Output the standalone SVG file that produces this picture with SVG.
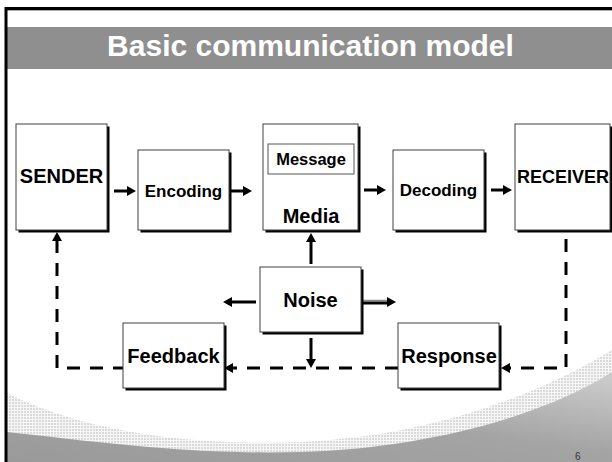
<svg xmlns="http://www.w3.org/2000/svg" width="612" height="462" viewBox="0 0 612 462">
  <defs>
    <style>
      .box{fill:#fff;stroke:#404040;stroke-width:1}
      .shadow{fill:#000}
      .lbl{font-family:"Liberation Sans",Arial,sans-serif;font-weight:bold;fill:#000;text-anchor:middle}
      .solid{stroke:#000;stroke-width:3;fill:none}
      .dash{stroke:#000;stroke-width:3;fill:none;stroke-dasharray:13 10}
    </style>
    <marker id="ah" viewBox="0 0 9 10" refX="1" refY="5" markerWidth="9" markerHeight="10" markerUnits="userSpaceOnUse" orient="auto-start-reverse">
      <path d="M0,0 L9,5 L0,10 z" fill="#000"/>
    </marker>
    <pattern id="dots" width="3" height="3" patternUnits="userSpaceOnUse">
      <rect width="3" height="3" fill="#f6f6f6"/>
      <rect width="2" height="2" fill="#dadada"/>
    </pattern>
    <linearGradient id="swoosh" x1="0" y1="1" x2="0.9" y2="0">
      <stop offset="0" stop-color="#9a9a9a"/>
      <stop offset="0.55" stop-color="#a4a4a4"/>
      <stop offset="1" stop-color="#cacaca"/>
    </linearGradient>
  </defs>

  <!-- page background -->
  <rect width="612" height="462" fill="#fff"/>

  <!-- lower decorative swoosh: dotted band and grey wave -->
  <path d="M7,393 C70,425 170,447 300,442 C420,437 530,400 612,350 L612,462 L7,462 Z" fill="url(#dots)"/>
  <path d="M7,432 C100,442 190,455 300,452 C420,449 540,418 612,372 L612,462 L7,462 Z" fill="url(#swoosh)"/>

  <!-- title band -->
  <rect x="7" y="27" width="605" height="42" fill="#8f8f8f"/>
  <text x="310.5" y="56" font-family="'Liberation Sans',Arial,sans-serif" font-weight="bold" font-size="30" fill="#fff" text-anchor="middle">Basic communication model</text>

  <!-- slide frame -->
  <line x1="7" y1="10.2" x2="612" y2="10.2" stroke="#b0b0b0" stroke-width="1.5"/>
  <path d="M6,462 V8.5 H612" fill="none" stroke="#000" stroke-width="3"/>

  <!-- page number -->
  <text x="575" y="460" font-family="'Liberation Sans',Arial,sans-serif" font-size="10" fill="#333">6</text>

  <!-- connectors -->
  <g id="connectors">
    <line class="solid" x1="114" y1="191" x2="128" y2="191" marker-end="url(#ah)"/>
    <line class="solid" x1="231" y1="191" x2="244" y2="191" marker-end="url(#ah)"/>
    <line class="solid" x1="364" y1="190" x2="378" y2="190" marker-end="url(#ah)"/>
    <line class="solid" x1="491" y1="190" x2="504" y2="190" marker-end="url(#ah)"/>
    <line class="solid" x1="311" y1="264" x2="311" y2="241" marker-end="url(#ah)"/>
    <line class="solid" x1="256" y1="302" x2="231" y2="302" marker-end="url(#ah)"/>
    <line x1="363" y1="300.5" x2="389" y2="300.5" stroke="#8a8a8a" stroke-width="1.5"/>
    <line x1="363" y1="303" x2="388" y2="303" stroke="#000" stroke-width="3"/>
    <path d="M387,297 L396,302 L387,307 z" fill="#000"/>
    <line class="solid" x1="311" y1="338" x2="311" y2="360" marker-end="url(#ah)"/>
    <path class="dash" d="M566,239 V368 H509" marker-end="url(#ah)"/>
    <path class="dash" d="M398,368 H232" marker-end="url(#ah)"/>
    <path class="dash" d="M57,240 V368 H123" marker-start="url(#ah)"/>
  </g>

  <!-- nodes -->
  <g id="sender">
    <rect class="shadow" x="18.5" y="126.5" width="91" height="106"/>
    <rect class="box" x="16" y="124" width="91" height="106"/>
    <text class="lbl" x="61.5" y="183" font-size="20">SENDER</text>
  </g>
  <g id="encoding">
    <rect class="shadow" x="140.5" y="152.5" width="91" height="80"/>
    <rect class="box" x="138" y="150" width="91" height="80"/>
    <text class="lbl" x="183.5" y="197" font-size="17">Encoding</text>
  </g>
  <g id="media">
    <rect class="shadow" x="265.5" y="126.5" width="95" height="106"/>
    <rect class="box" x="263" y="124" width="95" height="106"/>
    <rect x="268" y="144" width="86" height="30" fill="#fff" stroke="#555" stroke-width="1"/>
    <text class="lbl" x="311" y="165" font-size="16.5">Message</text>
    <text class="lbl" x="311" y="223" font-size="20">Media</text>
  </g>
  <g id="decoding">
    <rect class="shadow" x="395.5" y="152.5" width="91" height="80"/>
    <rect class="box" x="393" y="150" width="91" height="80"/>
    <text class="lbl" x="438.5" y="196" font-size="17">Decoding</text>
  </g>
  <g id="receiver">
    <rect class="shadow" x="517.5" y="126.5" width="95" height="106"/>
    <rect class="box" x="515" y="124" width="95" height="106"/>
    <text class="lbl" x="563" y="183" font-size="18">RECEIVER</text>
  </g>
  <g id="noise">
    <rect class="shadow" x="262.5" y="269.5" width="101" height="65"/>
    <rect class="box" x="260" y="267" width="101" height="65"/>
    <text class="lbl" x="310.5" y="307" font-size="20">Noise</text>
  </g>
  <g id="feedback">
    <rect class="shadow" x="125.5" y="325.5" width="101" height="65"/>
    <rect class="box" x="123" y="323" width="101" height="65"/>
    <text class="lbl" x="173.5" y="363" font-size="20">Feedback</text>
  </g>
  <g id="response">
    <rect class="shadow" x="400.5" y="325.5" width="101" height="65"/>
    <rect class="box" x="398" y="323" width="101" height="65"/>
    <text class="lbl" x="449" y="363" font-size="20">Response</text>
  </g>
</svg>
